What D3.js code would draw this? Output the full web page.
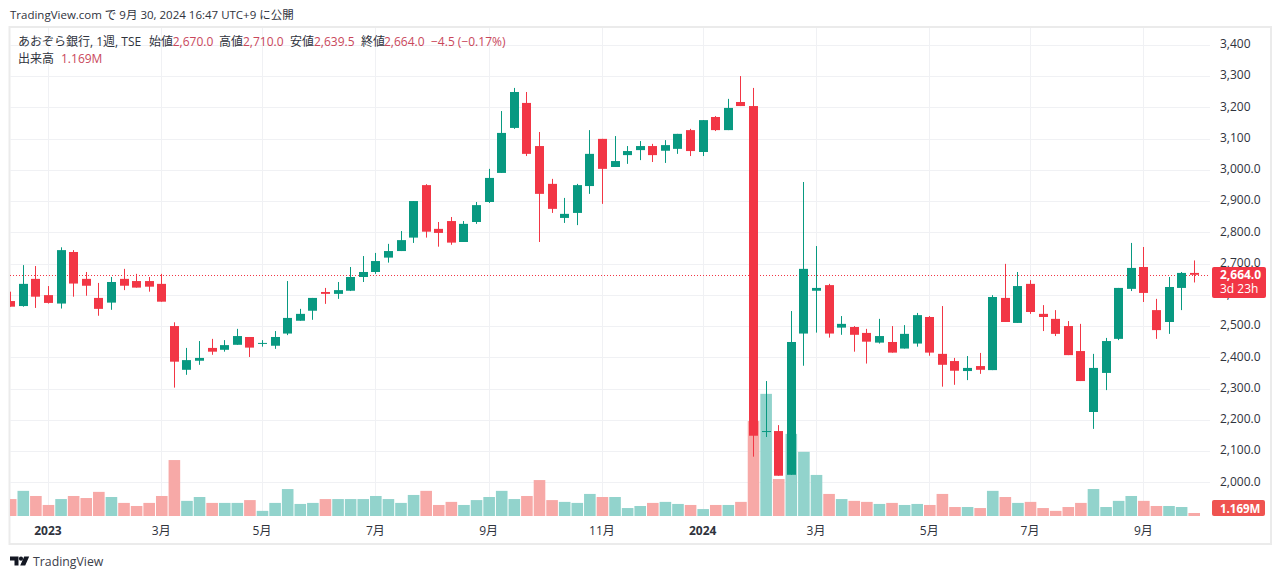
<!DOCTYPE html>
<html lang="ja"><head><meta charset="utf-8">
<script src="https://cdn.jsdelivr.net/npm/d3@7/dist/d3.min.js"></script>
<style>
html,body{margin:0;padding:0;background:#fff;overflow:hidden}
svg{display:block}
text{font-family:"Open Sans","Noto Sans CJK JP",sans-serif}
</style></head><body><svg id="c" width="1281" height="579"></svg>
<script>
const open=[2580,2564,2651,2599,2572,2737,2651,2590,2575,2651,2644,2644,2635,2500,2360,2389,2430,2424,2440,2465,2443,2437,2476,2517,2549,2609,2603,2613,2657,2673,2719,2740,2783,2951,2811,2836,2769,2833,2897,2990,3134,3214,3076,2955,2846,2862,2948,3099,3009,3047,3063,3076,3061,3067,3127,3057,3169,3127,3217,3204,2161,2164,2024,2476,2613,2631,2495,2497,2478,2447,2449,2428,2444,2529,2411,2388,2356,2372,2359,2590,2510,2635,2539,2523,2500,2420,2225,2350,2459,2619,2689,2551,2513,2622,2670];
const close=[2562,2635,2594,2574,2743,2636,2629,2555,2641,2629,2623,2626,2578,2386,2391,2398,2418,2439,2468,2431,2446,2465,2526,2539,2590,2603,2615,2657,2673,2708,2740,2775,2900,2802,2798,2767,2827,2887,2974,3118,3249,3051,2923,2875,2859,2951,3051,3003,3028,3060,3076,3047,3079,3115,3060,3159,3127,3198,3204,2149,2164,2021,2449,2683,2622,2476,2507,2472,2450,2468,2415,2475,2535,2415,2376,2357,2366,2360,2593,2513,2628,2545,2529,2475,2407,2324,2366,2452,2622,2686,2606,2487,2625,2670,2664];
const high=[2610,2695,2692,2628,2752,2743,2673,2638,2657,2683,2667,2657,2667,2512,2430,2452,2459,2455,2491,2465,2455,2484,2644,2555,2590,2622,2641,2689,2724,2734,2763,2804,2900,2954,2833,2849,2836,2897,3003,3188,3262,3249,3121,2971,2910,2955,3127,3099,3108,3076,3092,3083,3095,3115,3131,3159,3172,3227,3300,3262,2324,2183,2548,2961,2756,2635,2532,2500,2491,2523,2500,2503,2542,2532,2564,2398,2404,2414,2599,2699,2673,2647,2567,2551,2516,2507,2411,2462,2622,2766,2753,2587,2657,2673,2710];
const low=[2562,2562,2558,2572,2556,2594,2597,2533,2552,2615,2623,2610,2578,2303,2344,2376,2408,2418,2440,2401,2434,2427,2471,2517,2520,2571,2587,2612,2641,2667,2703,2740,2766,2783,2754,2760,2769,2827,2894,2990,3131,3044,2769,2862,2830,2823,2923,2891,3009,3019,3031,3025,3022,3051,3044,3044,3124,3127,3204,2082,2145,2021,2024,2373,2479,2463,2472,2418,2380,2444,2415,2428,2434,2405,2306,2312,2327,2347,2359,2513,2510,2539,2484,2468,2407,2324,2171,2295,2455,2612,2577,2459,2475,2551,2639.5];
const volumeM=[6.6,9.8,7.8,4.3,6.6,7.8,7.0,9.4,7.4,5.1,3.9,5.1,7.8,21.8,5.9,7.4,5.1,5.1,5.1,6.2,2.0,5.1,10.5,4.7,5.1,6.6,6.6,6.6,6.6,7.8,6.6,5.1,8.2,9.8,4.3,5.5,4.3,6.2,7.4,9.8,6.6,7.8,14.0,6.2,5.5,5.1,8.6,7.4,7.4,3.1,3.9,5.1,5.5,4.7,4.3,2.7,4.3,4.3,5.5,37.0,47.6,14.4,32.0,25.0,16.0,8.6,6.6,5.9,5.5,4.7,5.1,4.3,4.7,4.3,8.6,3.5,3.5,3.1,9.8,7.4,5.1,5.5,3.1,2.0,3.5,5.1,10.5,3.5,5.9,7.8,5.9,3.9,3.9,3.5,1.169];
const priceTicks=[3400,3300,3200,3100,3000,2900,2800,2700,2600,2500,2400,2300,2200,2100,2000];
const priceLabels=["3,400","3,300","3,200","3,100","3,000.0","2,900.0","2,800.0","2,700.0","2,600.0","2,500.0","2,400.0","2,300.0","2,200.0","2,100.0","2,000.0"];
const timeTickIndex=[3,12,20,29,38,47,55,64,73,81,90];
const timeTickLabels=["2023","3月","5月","7月","9月","11月","2024","3月","5月","7月","9月"];
const lastPrice=2664, lastVolume="1.169M";

const UP="#089981",DOWN="#F23645",UPV="#92D3CC",DOWNV="#F7A9A7",GRID="#f0f1f4",TXT="#2f333d";
const L=10,R=1210,T=28,B=516;
const svg=d3.select("#c");
const x=d3.scaleLinear().domain([0,94]).range([10.7,1194.2]);
const y=d3.scaleLinear().domain([2000,3400]).range([482.3,44.8]);
const v=d3.scaleLinear().domain([0,1.169]).range([516,513]);
const idx=d3.range(open.length);
const isUp=i=>close[i]>=open[i];

svg.append("rect").attr("x",9.5).attr("y",27).attr("width",1261.5).attr("height",517).attr("fill","#fff").attr("stroke","#ebebeb").attr("stroke-width",2);

const defs=svg.append("defs");
defs.append("clipPath").attr("id","pane").append("rect").attr("x",L).attr("y",T).attr("width",R-L).attr("height",B-T);

const grid=svg.append("g").attr("stroke",GRID).attr("stroke-width",1);
grid.selectAll(".h").data(priceTicks).join("line").attr("x1",L).attr("x2",R).attr("y1",d=>Math.round(y(d))+.5).attr("y2",d=>Math.round(y(d))+.5);
grid.selectAll(".v").data(timeTickIndex).join("line").attr("y1",T).attr("y2",B).attr("x1",d=>Math.floor(x(d))+.5).attr("x2",d=>Math.floor(x(d))+.5);

const pane=svg.append("g").attr("clip-path","url(#pane)");
const vw=11.6;
pane.selectAll(".vol").data(idx).join("rect")
 .attr("x",i=>x(i)-vw/2).attr("width",vw)
 .attr("y",i=>v(volumeM[i])).attr("height",i=>516-v(volumeM[i]))
 .attr("fill",i=>isUp(i)?UPV:DOWNV);

pane.append("line").attr("x1",L).attr("x2",R).attr("y1",Math.round(y(lastPrice))+.5).attr("y2",Math.round(y(lastPrice))+.5)
 .attr("stroke","#F23645").attr("stroke-width",1).attr("stroke-dasharray","1 2");

pane.selectAll(".wick").data(idx).join("line")
 .attr("x1",i=>Math.floor(x(i))+.5).attr("x2",i=>Math.floor(x(i))+.5)
 .attr("y1",i=>y(high[i])).attr("y2",i=>y(low[i]))
 .attr("stroke",i=>isUp(i)?UP:DOWN).attr("stroke-width",1);
const bw=9;
pane.selectAll(".body").data(idx).join("rect")
 .attr("x",i=>Math.floor(x(i))+.5-bw/2).attr("width",bw)
 .attr("y",i=>y(Math.max(open[i],close[i])))
 .attr("height",i=>Math.max(1,Math.abs(y(open[i])-y(close[i]))))
 .attr("fill",i=>isUp(i)?UP:DOWN);

// price axis
const ya=svg.append("g").attr("transform","translate(1220,-1)")
 .call(d3.axisRight(y).tickValues(priceTicks).tickSize(0).tickPadding(0).tickFormat((d,i)=>priceLabels[i]));
ya.select(".domain").remove();
ya.selectAll("text").attr("font-size",12).attr("fill",TXT).attr("x",0);

// time axis
const xa=svg.append("g").attr("transform","translate(-1,526)")
 .call(d3.axisBottom(x).tickValues(timeTickIndex).tickSize(0).tickPadding(0).tickFormat((d,i)=>timeTickLabels[i]));
xa.select(".domain").remove();
xa.selectAll("text").attr("font-size",12).attr("fill",TXT).attr("font-weight",(d,i)=>/^\d{4}$/.test(timeTickLabels[i])?700:400);

// price tag
svg.append("rect").attr("x",1212).attr("y",267).attr("width",54).attr("height",31).attr("rx",2).attr("fill",DOWN);
svg.append("text").attr("x",1220).attr("y",278.5).attr("font-size",12).attr("font-weight",700).attr("fill","#fff").text(d3.format(",.1f")(lastPrice));
svg.append("text").attr("x",1220).attr("y",293).attr("font-size",12).attr("fill","#fff").text("3d 23h");
// volume tag
svg.append("rect").attr("x",1212).attr("y",500).attr("width",53).attr("height",16).attr("rx",2).attr("fill","#EF5350");
svg.append("text").attr("x",1220).attr("y",512.5).attr("font-size",11.5).attr("font-weight",700).attr("fill","#fff").text(lastVolume);

// header + legend
const put=(s,px,py,fill,size=12)=>svg.append("text").attr("x",px).attr("y",py).attr("font-size",size).attr("fill",fill).text(s);
put("TradingView.com で 9月 30, 2024 16:47 UTC+9 に公開",10,18.5,TXT,11.5);
const RV="#c9475b",LB="#2f333d";
put("あおぞら銀行, 1週, TSE",18,46,LB);
[["始値",149,"2,670.0",172.7],["高値",219,"2,710.0",243],["安値",290,"2,639.5",314],["終値",361,"2,664.0",384]].forEach(a=>{put(a[0],a[1],46,LB);put(a[2],a[3],46,RV);});
put("−4.5 (−0.17%)",431,46,RV);
put("出来高",18,63,LB);
put(lastVolume,61,63,RV);

// footer logo
svg.append("path").attr("fill","#131722").attr("d","M10 556.5h8.5v9h-4v-5h-4.5zM24.2 556.5h5l-4 9h-5z");
svg.append("circle").attr("cx",21).attr("cy",558.7).attr("r",2.1).attr("fill","#131722");
put("TradingView",33,566,"#3c404a",12.3);
</script></body></html>
